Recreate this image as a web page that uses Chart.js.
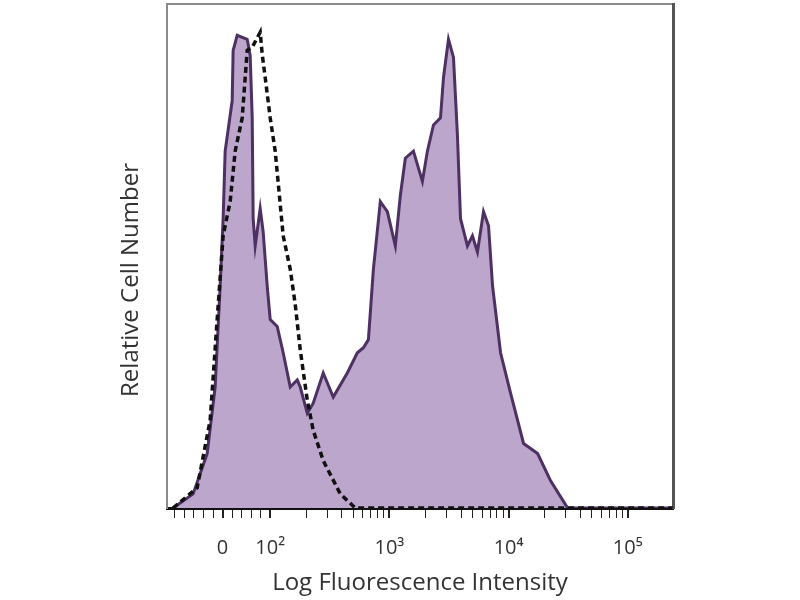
<!DOCTYPE html>
<html>
<head>
<meta charset="utf-8">
<script src="https://cdn.jsdelivr.net/npm/chart.js@4"></script>
<style>
  html, body { margin: 0; padding: 0; background: #fff; }
  #wrap { width: 800px; height: 600px; }
</style>
</head>
<body>
<div id="wrap"><canvas id="histChart"></canvas></div>
<script>
// x in decade units (2 = 10^2), y = relative cell number (% of max)
const stainedX = [1.185, 1.353, 1.471, 1.538, 1.580, 1.605, 1.622, 1.681, 1.689, 1.723, 1.807, 1.832, 1.849, 1.857, 1.874, 1.916, 1.941, 1.975, 2.000, 2.059, 2.109, 2.168, 2.227, 2.252, 2.311, 2.361, 2.445, 2.529, 2.647, 2.731, 2.782, 2.824, 2.866, 2.924, 2.983, 3.050, 3.092, 3.134, 3.202, 3.277, 3.319, 3.370, 3.429, 3.454, 3.496, 3.538, 3.571, 3.597, 3.655, 3.697, 3.739, 3.790, 3.832, 3.866, 3.933, 4.017, 4.126, 4.244, 4.353, 4.496, 4.563, 5.378];
const stainedY = [0, 2.8, 10.8, 24, 44, 57.4, 70.8, 80.8, 90.8, 93.8, 93, 89.8, 77.4, 57.4, 52, 59.4, 54.8, 44, 37.4, 36, 30.8, 24, 25.4, 24, 18.8, 20.8, 26.8, 22, 26.8, 30.8, 31.8, 33.4, 47.4, 60.8, 58.8, 52, 62, 69.4, 70.8, 64.8, 70.8, 76, 77.4, 85.4, 93, 89.4, 74, 57.4, 52, 54, 50.8, 58.8, 56, 44, 30.8, 22.8, 12.8, 10.8, 5.4, 0, 0, 0];

const controlX = [1.185, 1.387, 1.496, 1.555, 1.605, 1.664, 1.706, 1.765, 1.807, 1.849, 1.916, 1.933, 1.958, 2.000, 2.042, 2.109, 2.168, 2.210, 2.252, 2.311, 2.361, 2.445, 2.588, 2.714, 5.378];
const controlY = [0, 4, 17.4, 37.4, 54, 60.8, 70.8, 77.4, 90.8, 91.4, 94.4, 90, 85.4, 77.4, 70.8, 54, 47.4, 40.4, 31.4, 21.4, 15.4, 9.4, 2.8, 0, 0];

// axis ticks
const majorTickPos = [1.6, 2, 3, 4, 5];
const majorTickLabels = ['0', '10²', '10³', '10⁴', '10⁵'];
const linearMinorPos = [1.2, 1.28, 1.36, 1.44, 1.52, 1.68, 1.76, 1.84, 1.92];

const toPoints = (xs, ys) => xs.map((x, i) => ({ x: x, y: ys[i] }));

// minor log ticks between decades
const logMinorPos = [];
[2, 3, 4].forEach(d => {
    for (let m = 2; m <= 9; m++) logMinorPos.push(d + Math.log10(m));
});

// y title sits a little below the middle of the plot in the original
const yTitlePlugin = {
    id: 'yTitle',
    afterDraw(chart) {
        const c = chart.ctx;
        c.save();
        c.translate(131, 280);
        c.rotate(-Math.PI / 2);
        c.fillStyle = '#333';
        c.font = '24px "Open Sans"';
        c.textAlign = 'center';
        c.textBaseline = 'middle';
        c.fillText('Relative Cell Number', 0, 0);
        c.restore();
    }
};

const ctx = document.getElementById('histChart');
new Chart(ctx, {
    type: 'line',
    data: {
        datasets: [
            {
                label: 'Isotype control',
                data: toPoints(controlX, controlY),
                borderColor: '#111',
                borderWidth: 3.5,
                borderDash: [6, 4],
                pointRadius: 0,
                tension: 0,
                fill: false,
                order: 0
            },
            {
                label: 'Stained',
                data: toPoints(stainedX, stainedY),
                borderColor: '#4e3163',
                backgroundColor: '#bca6cc',
                borderWidth: 3,
                pointRadius: 0,
                tension: 0,
                fill: 'origin',
                order: 1
            }
        ]
    },
    options: {
        responsive: true,
        maintainAspectRatio: false,
        animation: false,
        layout: { padding: { top: 4, right: 127, left: 0, bottom: 0 } },
        plugins: { legend: { display: false }, tooltip: { enabled: false } },
        scales: {
            x: {
                type: 'linear',
                min: 1.134,
                max: 5.38,
                afterFit: s => { s.height = 92; },
                afterBuildTicks: s => {
                    s.ticks = majorTickPos.concat(linearMinorPos, logMinorPos)
                        .sort((a, b) => a - b)
                        .map(v => ({ value: v }));
                },
                ticks: {
                    autoSkip: false,
                    maxRotation: 0,
                    padding: 18,
                    color: '#333',
                    font: { family: 'Open Sans', size: 20 },
                    callback: v => {
                        const i = majorTickPos.findIndex(p => Math.abs(p - v) < 1e-6);
                        return i >= 0 ? majorTickLabels[i] : '';
                    }
                },
                grid: {
                    drawOnChartArea: false,
                    drawTicks: true,
                    tickLength: 10,
                    color: '#222',
                    lineWidth: c => majorTickPos.some(p => Math.abs(p - c.tick.value) < 1e-6) ? 2 : 1
                },
                border: { display: true, color: '#111', width: 3 },
                title: {
                    display: true,
                    text: 'Log Fluorescence Intensity',
                    color: '#333',
                    font: { family: 'Open Sans', size: 24 },
                    padding: { top: 0, bottom: 2 }
                }
            },
            y: {
                min: 0,
                max: 100,
                afterFit: s => { s.width = 167; },
                ticks: { display: false },
                grid: { display: false, drawTicks: false },
                border: { display: true, color: '#8a8a8a', width: 2 }
            },
            x2: {
                position: 'top',
                display: true,
                min: 0, max: 1,
                afterFit: s => { s.height = 0; },
                ticks: { display: false },
                grid: { display: false, drawTicks: false },
                border: { display: true, color: '#8a8a8a', width: 2 }
            },
            y2: {
                position: 'right',
                display: true,
                min: 0, max: 1,
                afterFit: s => { s.width = 0; },
                ticks: { display: false },
                grid: { display: false, drawTicks: false },
                border: { display: true, color: '#555', width: 3 }
            }
        }
    },
    plugins: [yTitlePlugin]
});
</script>
</body>
</html>
